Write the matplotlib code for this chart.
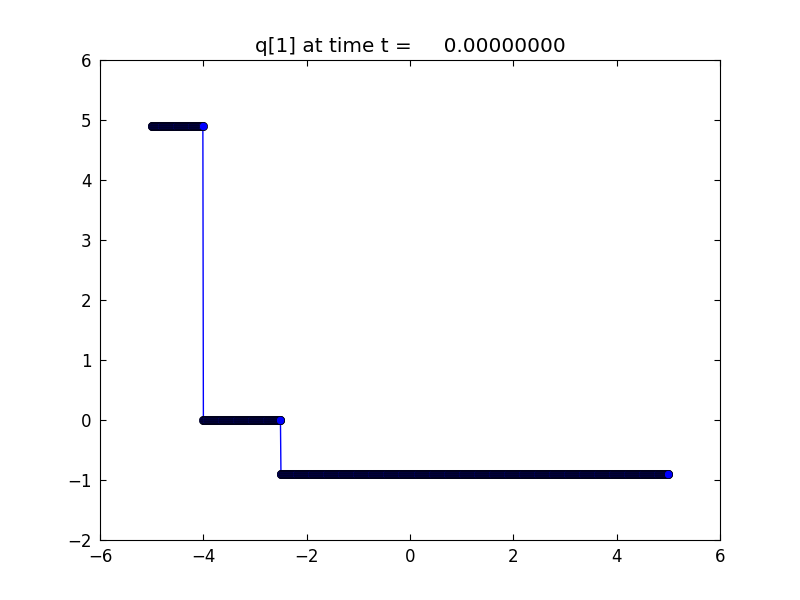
import numpy as np
import matplotlib
matplotlib.use("Agg")
import matplotlib.pyplot as plt

# Piecewise-constant data
edges = [-5.0, -4.0, -2.5, 5.0]     # segment boundaries
levels = [4.9, 0.0, -0.9]           # value on each segment
n_cells = 1000
title = "q[1] at time t =     0.00000000"
xticks = [-6, -4, -2, 0, 2, 4, 6]
yticks = [-2, -1, 0, 1, 2, 3, 4, 5, 6]

x = np.linspace(edges[0], edges[-1], n_cells)
q = np.empty_like(x)
for lo, hi, v in zip(edges[:-1], edges[1:], levels):
    q[(x >= lo) & (x <= hi)] = v

plt.rcParams['font.family'] = ['DejaVu Sans']
fig = plt.figure(figsize=(8, 6), dpi=100)
ax = fig.add_axes([0.125, 0.1, 0.775, 0.8])
ax.plot(x, q, 'o-', color='blue', markeredgecolor='black', markersize=6,
        linewidth=1, markeredgewidth=0.5)
ax.set_xlim(-6, 6)
ax.set_ylim(-2, 6)
ax.set_xticks(xticks)
ax.set_yticks(yticks)
ax.tick_params(direction='in', top=True, right=True, length=4, labelsize=12, pad=6)
ax.set_title(title, fontsize=14.4)
fig.savefig("out.png", dpi=100)
